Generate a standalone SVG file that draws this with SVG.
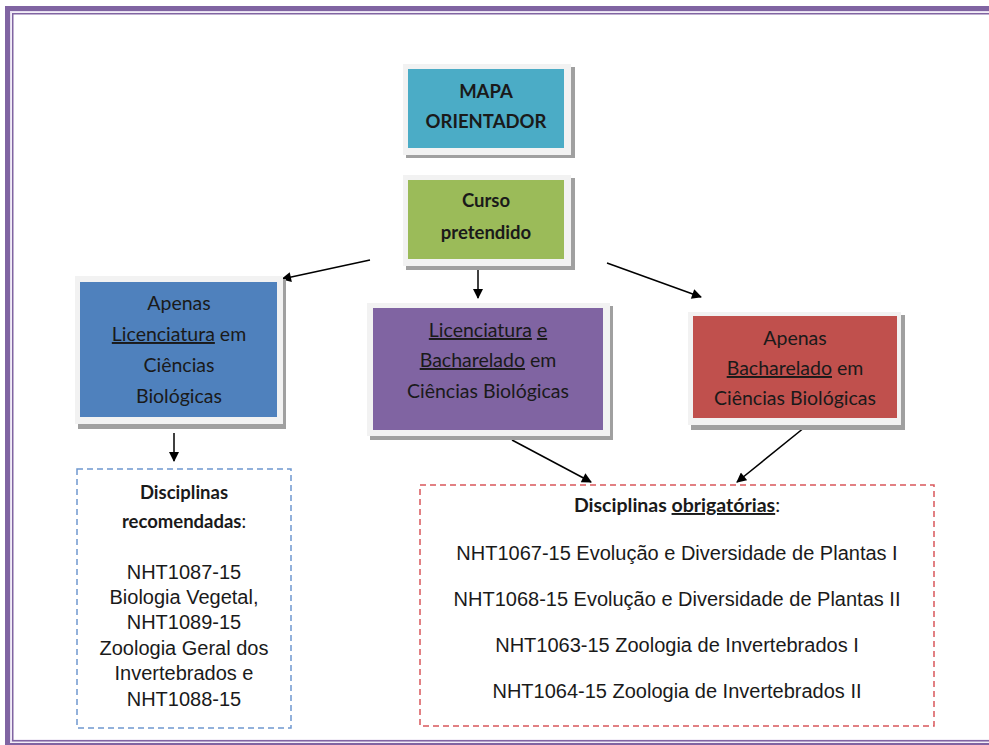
<svg xmlns="http://www.w3.org/2000/svg" width="989" height="745" viewBox="0 0 989 745">
<defs>
<marker id="ah" viewBox="0 0 10 10" refX="9" refY="5" markerWidth="11" markerHeight="10" markerUnits="userSpaceOnUse" orient="auto">
<path d="M0,0 L10,5 L0,10 z" fill="#000"/>
</marker>
<style>
.frame{fill:#f2f2f2;}
.shadow{fill:#a0a0a0;}
.cal{font-family:Lato,"Open Sans","Liberation Sans",sans-serif;font-size:19.5px;fill:#1a1a1a;text-anchor:middle;}
.b{font-weight:bold;}
.ar{font-family:"Liberation Sans",Arial,sans-serif;font-size:20px;fill:#1a1a1a;text-anchor:middle;}
.u{text-decoration:underline;}
.conn{stroke:#000;stroke-width:1.5;fill:none;marker-end:url(#ah);}
</style>
</defs>
<rect x="0" y="0" width="989" height="745" fill="#fff"/>
<g id="border" fill="none">
<rect x="10" y="11" width="1000" height="730" fill="none" stroke="#e6def0" stroke-width="3"/>
<rect x="7.5" y="8.5" width="1000" height="737" stroke="#8064a2" stroke-width="5"/>
<rect x="12.75" y="13.75" width="1000" height="727" stroke="#8064a2" stroke-width="1.5"/>
</g>
<g id="connectors">
<line class="conn" x1="370" y1="260" x2="282" y2="279"/>
<line class="conn" x1="478" y1="262" x2="478" y2="298"/>
<line class="conn" x1="607" y1="263" x2="701" y2="297"/>
<line class="conn" x1="174" y1="433" x2="174" y2="461"/>
<line class="conn" x1="512" y1="440" x2="591" y2="482"/>
<line class="conn" x1="810" y1="423" x2="737" y2="482"/>
</g>
<g id="mapa">
<rect class="shadow" x="406" y="67" width="169" height="91"/>
<rect class="frame" x="403" y="64" width="168" height="91"/>
<rect x="408" y="69" width="156" height="79" fill="#4bacc6"/>
<text class="cal b" x="486" y="98" style="font-size:18.5px">MAPA</text>
<text class="cal b" x="486" y="128" style="font-size:18.5px">ORIENTADOR</text>
</g>
<g id="curso">
<rect class="shadow" x="406" y="178" width="169" height="92"/>
<rect class="frame" x="403" y="175" width="168" height="91"/>
<rect x="408" y="180" width="156" height="79" fill="#9bbb59"/>
<text class="cal b" x="486" y="207" style="font-size:18.5px">Curso</text>
<text class="cal b" x="486" y="239" style="font-size:18.5px">pretendido</text>
</g>
<g id="licenciatura">
<rect class="shadow" x="78" y="279" width="208" height="150"/>
<rect class="frame" x="75" y="276" width="208" height="148"/>
<rect x="80" y="282" width="197" height="135" fill="#4f81bd"/>
<text class="cal" x="179" y="310">Apenas</text>
<text class="cal" x="179" y="341"><tspan class="u">Licenciatura</tspan> em</text>
<text class="cal" x="179" y="372">Ciências</text>
<text class="cal" x="179" y="403">Biológicas</text>
</g>
<g id="ambos">
<rect class="shadow" x="370" y="306" width="243" height="134"/>
<rect class="frame" x="367" y="303" width="243" height="133"/>
<rect x="373" y="308" width="230" height="122" fill="#8064a2"/>
<text class="cal" x="488" y="337"><tspan class="u">Licenciatura</tspan> <tspan class="u">e</tspan></text>
<text class="cal" x="488" y="367"><tspan class="u">Bacharelado</tspan> em</text>
<text class="cal" x="488" y="398">Ciências Biológicas</text>
</g>
<g id="bacharelado">
<rect class="shadow" x="691" y="315" width="214" height="115"/>
<rect class="frame" x="688" y="312" width="213" height="113"/>
<rect x="693" y="316" width="204" height="102" fill="#c0504d"/>
<text class="cal" x="795" y="345">Apenas</text>
<text class="cal" x="795" y="375"><tspan class="u">Bacharelado</tspan> em</text>
<text class="cal" x="795" y="405">Ciências Biológicas</text>
</g>
<g id="recomendadas">
<rect x="77" y="469" width="214" height="259" fill="none" stroke="#6f98cf" stroke-width="1.5" stroke-dasharray="6,4"/>
<text class="cal b" x="184" y="499" style="font-size:18.5px">Disciplinas</text>
<text class="cal" x="184" y="528" style="font-size:18.5px"><tspan class="b">recomendadas</tspan>:</text>
<text class="ar" x="184" y="579">NHT1087-15</text>
<text class="ar" x="184" y="604">Biologia Vegetal,</text>
<text class="ar" x="184" y="629">NHT1089-15</text>
<text class="ar" x="184" y="655">Zoologia Geral dos</text>
<text class="ar" x="184" y="680">Invertebrados e</text>
<text class="ar" x="184" y="706">NHT1088-15</text>
</g>
<g id="obrigatorias">
<rect x="420" y="485" width="514" height="241" fill="none" stroke="#d9575b" stroke-width="1.5" stroke-dasharray="6,4"/>
<text class="cal" x="677" y="512" style="font-size:19.5px"><tspan class="b">Disciplinas </tspan><tspan class="b u">obrigatórias</tspan>:</text>
<text class="ar" x="677" y="560">NHT1067-15 Evolução e Diversidade de Plantas I</text>
<text class="ar" x="677" y="606">NHT1068-15 Evolução e Diversidade de Plantas II</text>
<text class="ar" x="677" y="652">NHT1063-15 Zoologia de Invertebrados I</text>
<text class="ar" x="677" y="698">NHT1064-15 Zoologia de Invertebrados II</text>
</g>
</svg>
